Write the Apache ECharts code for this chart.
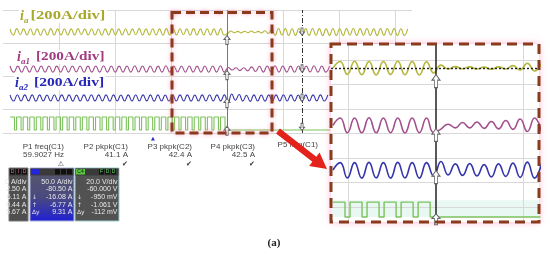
<!DOCTYPE html>
<html>
<head>
<meta charset="utf-8">
<script src="https://cdn.jsdelivr.net/npm/echarts@6/dist/echarts.min.js"></script>
<style>
html, body { margin: 0; padding: 0; background: #fff; }
#chart { width: 550px; height: 254px; }
</style>
</head>
<body>
<div id="chart"></div>
<script>
// ===== 左侧示波器数据 (单位: div) =====
const leftStart = 0.125;  // 波形起点
const iaStep = 0.0607;    // 半周期
const ia1Step = 0.0696;
const ia2Step = 0.066;
const cursorA = 4.0;      // 实线光标
const cursorB = 5.34;     // 点划线光标
const traceEnd = 5.84;    // 被放大框挡住处

// ia 峰谷值
const iaLeft = [
  .2, -.2, .22, -.18, .2, -.2, .21, -.19, .2, -.21,
  .19, -.2, .22, -.2, .2, -.19, .21, -.2, .2, -.2,
  .22, -.18, .2, -.2, .21, -.2, .19, -.21, .2, -.2,
  .22, -.19, .2, -.2, .21, -.2, .2, -.18, .22, -.2,
  .2, -.2, .21, -.19, .2, -.21, .22, -.2, .2, -.2,
  .21, -.18, .2, -.2, .22, -.2, .2, -.19, .21, -.2,
  .2, -.2, .22, -.2,
  -.1, .06, -.05, .04, -.06, .05, -.04, .06, -.05, .04, -.06, .08, -.1,
  .2, -.22, .23, -.2, .22, -.23, .21, -.22, .23, -.2,
  .22, -.22, .23, -.21, .22, -.23, .2, -.22, .23, -.22,
  .21, -.23, .22, -.2, .23, -.22, .22, -.21, .23, -.22,
  .2, -.23, .22, -.22, .23, -.2, .22, -.23, .21, -.22, .2,
];
const ia1Left = [
  .2, -.2, .19, -.21, .2, -.2, .21, -.19, .2, -.2,
  .2, -.21, .19, -.2, .21, -.2, .2, -.19, .2, -.21,
  .19, -.2, .2, -.2, .21, -.2, .2, -.21, .19, -.2,
  .2, -.2, .21, -.19, .2, -.2, .2, -.21, .19, -.2,
  .21, -.2, .2, -.19, .2, -.21, .2, -.2, .19, -.2,
  .2, -.21, .2, -.2, .21, -.2,
  .1, -.06, .08, -.1, .08, -.12, .14, -.16,
  .18, -.2, .2, -.19, .21, -.2, .2, -.2, .19, -.21,
  .2, -.2, .2, -.19, .21, -.2, .2, -.2, .19,
];
const ia2Left = [
  .2, -.2, .21, -.2, .2, -.19, .2, -.21, .2, -.2,
  .19, -.2, .21, -.2, .2, -.2, .2, -.21, .19, -.2,
  .2, -.2, .21, -.19, .2, -.2, .2, -.21, .2, -.2,
  .19, -.2, .2, -.2, .21, -.2, .2, -.19, .2, -.21,
  .2, -.2, .19, -.2, .21, -.2, .2, -.2, .2, -.21,
  .19, -.2, .2, -.2, .21, -.2, .2, -.19, .2,
  -.32, .26, -.15, .22, -.2, .18, -.22, .2, -.2, .19,
  -.21, .2, -.2, .2, -.19, .21, -.2, .2, -.2, .19,
  -.21, .2, -.2, .2, -.19, .2, -.2, .2,
];
// 驱动信号 (1 高 / 0 低)
const gateLeft = [
  1, 0, 1, 0, 1, 0, 1, 0, 1, 0, 1, 0, 1, 0, 1, 0, 1, 0, 1, 0,
  1, 0, 1, 0, 1, 0, 1, 0, 1, 0, 1, 0, 1, 0, 1, 0, 1, 0, 1, 0,
  1, 0, 1, 0, 1, 0, 1, 0, 1, 0, 1, 0, 1, 0, 1, 0, 1, 0, 1, 0,
  1, 0, 1, 0, 1, 0,
];
const gateLeftWidth = [0.08, 0.0375];   // 高、低电平宽度
// 左图水平网格位置
const leftHLines = [0, 1.56, 3.71, 5.85, 8];

// ===== 右侧放大图数据 =====
const rightStart = -0.256;
const rightStep = 0.1234;
const cursorR = 1.51;
const rightEnd = 3.3;
const iaRight = [
  0, .27, -.26, .28, -.27, .27, -.28, .27, -.26, .28, -.27, .27, -.28, .26, -.2,
  .12, -.04, .06, -.03, .05, -.04, .04, -.05, .05, -.04, .1, -.08, .2, -.12, .22,
];
const ia1Right = [
  0, .3, -.3, .3, -.3, .31, -.3, .3, -.3, .3, -.31, .3, -.3, .3, -.3,
  -.15, .05, -.1, .12, -.1, .14, -.12, .16, -.14, .2, -.16, .26, -.25, .3, -.3,
];
const ia2Right = [
  0, .3, -.32, .3, -.33, .31, -.32, .3, -.33, .31, -.32, .3, -.33, .3, -.25,
  .35, -.2, .25, -.22, .26, -.24, .22, -.28, .25, -.26, .28, -.3, .32, -.33, .3,
];
const gateRight = [1, 0, 1, 0, 1, 0, 1, 0, 1, 0, 1, 0];
const gateRightWidth = [0.206, 0.086];

// 文字
const traceLabels = ['a', 'a1', 'a2'];
const measureNames = ['P1 freq(C1)', 'P2 pkpk(C1)', 'P3 pkpk(C2)', 'P4 pkpk(C3)', 'P5 min(C1)'];
const measureValues = ['59.9027 Hz', '41.1 A', '42.4 A', '42.5 A', ''];
const box1Rows = ['0 A/div', '2.50 A', '6.11 A', '0.44 A', '5.67 A'];
const box2Rows = ['50.0 A/div', '-80.50 A', '-16.08 A', '-6.77 A', '9.31 A'];
const box3Rows = ['20.0 V/div', '-60.000 V', '-950 mV', '-1.061 V', '-112 mV'];

const colors = {
  ia: '#b4b63a',
  ia1: '#a24f8c',
  ia2: '#3434ac',
  gate: '#7cc25c',
  grid: '#d8d8d8',
  box: '#8a3b1c',
};

window.onload = function () {
  init();
};

function wave(values, start, step, offset) {
  return values.map((v, i) => [start + i * step, offset + v]);
}

function gate(levels, start, widths, end, lo, hi) {
  const pts = [];
  let x = start;
  levels.forEach(lv => {
    pts.push([x, lv ? hi : lo]);
    x += lv ? widths[0] : widths[1];
  });
  pts.push([x, lo]);
  pts.push([end, lo]);
  return pts;
}

function traceSeries(data, idx, color, width, smooth, zlevel) {
  return {
    type: 'line',
    xAxisIndex: idx,
    yAxisIndex: idx,
    data,
    showSymbol: false,
    smooth: smooth ? 0.5 : false,
    step: smooth ? false : 'end',
    lineStyle: { color, width },
    silent: true,
    zlevel,
    z: 3,
  };
}

function arrowMark(x, y, size, rotate) {
  return {
    coord: [x, y],
    symbol: 'path://M5,0L10,6L7,6L7,14L3,14L3,6L0,6Z',
    symbolSize: size,
    symbolRotate: rotate,
    itemStyle: { color: '#fff', borderColor: '#666', borderWidth: 1 },
  };
}

function text(x, y, str, font, fill, align, extra) {
  return Object.assign({
    type: 'text',
    x,
    y,
    style: { text: str, font, fill, align: align || 'left', verticalAlign: 'middle' },
  }, extra || {});
}

// 通道信息框
function channelBox(x, w, bodyFill, border, head, rows, glyphs) {
  const els = [];
  els.push({ type: 'rect', shape: { x, y: 168, width: w, height: 53 }, style: { fill: bodyFill, stroke: border, lineWidth: 1 } });
  els.push({ type: 'rect', shape: { x: x + 0.5, y: 168.5, width: w - 1, height: 7 }, style: { fill: '#3a3a3a' } });
  head.forEach(h => {
    els.push({ type: 'rect', shape: { x: h.x, y: 169, width: h.w, height: 5.5 }, style: { fill: h.fill } });
    if (h.t) {
      els.push(text(h.x + h.w / 2, 172, h.t, '5px "Liberation Sans"', h.tc, 'center'));
    }
  });
  const rowY = [181.7, 189.3, 197.3, 205, 212.3];
  rows.forEach((r, i) => {
    els.push(text(x + w - 1.5, rowY[i], r, '7px "Liberation Sans Narrow", "Liberation Sans"', '#e8e8e8', 'right'));
  });
  (glyphs || []).forEach((g, i) => {
    if (g) els.push(text(x + 2, rowY[i], g, '6px "DejaVu Sans"', '#e8e8e8', 'left'));
  });
  return els;
}

function arrowPolygon(x0, y0, x1, y1, shaftHalf, headLen, headHalf) {
  const len = Math.hypot(x1 - x0, y1 - y0);
  const ux = (x1 - x0) / len, uy = (y1 - y0) / len;
  const nx = -uy, ny = ux;
  const bx = x1 - ux * headLen, by = y1 - uy * headLen;
  return [
    [x0 + nx * shaftHalf, y0 + ny * shaftHalf],
    [bx + nx * shaftHalf, by + ny * shaftHalf],
    [bx + nx * headHalf, by + ny * headHalf],
    [x1, y1],
    [bx - nx * headHalf, by - ny * headHalf],
    [bx - nx * shaftHalf, by - ny * shaftHalf],
    [x0 - nx * shaftHalf, y0 - ny * shaftHalf],
  ];
}

function init() {
  const chart = echarts.init(document.getElementById('chart'));

  // 左图通道偏置
  const leftOff = { ia: 6.57, ia1: 4.16, ia2: 2.28, gateLo: 0.2, gateHi: 1.04 };
  // 右图通道偏置
  const rightOff = { ia: 5.67, ia1: 3.33, ia2: 1.51, gateLo: -0.41, gateHi: 0.2 };

  const leftGridLines = [];
  for (let i = 1; i <= 7; i++) leftGridLines.push({ xAxis: i });
  leftHLines.forEach(v => leftGridLines.push({ yAxis: v }));

  const series = [
    // 左图网格
    {
      type: 'line',
      xAxisIndex: 0,
      yAxisIndex: 0,
      data: [],
      silent: true,
      z: 1,
      markLine: {
        silent: true,
        symbol: ['none', 'none'],
        label: { show: false },
        animation: false,
        z: 1,
        lineStyle: { color: colors.grid, width: 1, type: 'solid' },
        data: leftGridLines,
      },
    },
    traceSeries(wave(iaLeft, leftStart, iaStep, leftOff.ia), 0, colors.ia, 1.1, true, 0),
    traceSeries(wave(ia1Left, leftStart, ia1Step, leftOff.ia1), 0, colors.ia1, 1.1, true, 0),
    traceSeries(wave(ia2Left, leftStart, ia2Step, leftOff.ia2), 0, colors.ia2, 1.1, true, 0),
    traceSeries(gate(gateLeft, leftStart, gateLeftWidth, traceEnd, leftOff.gateLo, leftOff.gateHi), 0, colors.gate, 1.1, false, 0),
    // 左图光标
    {
      type: 'line',
      xAxisIndex: 0,
      yAxisIndex: 0,
      data: [],
      silent: true,
      z: 6,
      markLine: {
        silent: true,
        symbol: ['none', 'none'],
        label: { show: false },
        animation: false,
        z: 6,
        data: [
          { xAxis: cursorA, lineStyle: { color: '#777', width: 1, type: 'solid' } },
          { xAxis: cursorB, lineStyle: { color: '#333', width: 1, type: [5, 2, 1, 2] } },
        ],
      },
      markPoint: {
        silent: true,
        label: { show: false },
        animation: false,
        z: 7,
        data: [
          arrowMark(cursorA, 6.05, [6, 9], 0),
          arrowMark(cursorA, 3.77, [6, 9], 0),
          arrowMark(cursorA, 1.95, [6, 9], 0),
          arrowMark(cursorA, 0.15, [6, 9], 0),
          arrowMark(cursorB, 6.6, [5, 7], 180),
          arrowMark(cursorB, 4.2, [5, 7], 180),
          arrowMark(cursorB, 2.3, [5, 7], 180),
          arrowMark(cursorB, 0.4, [5, 7], 180),
        ],
      },
    },

    // 右图网格
    {
      type: 'line',
      xAxisIndex: 1,
      yAxisIndex: 1,
      data: [],
      silent: true,
      zlevel: 1,
      z: 1,
      markArea: {
        silent: true,
        zlevel: 1,
        z: 1,
        itemStyle: { color: '#eaf8f4' },
        data: [[{ xAxis: -0.29, yAxis: rightOff.gateLo }, { xAxis: 3.3, yAxis: rightOff.gateHi + 0.08 }]],
      },
      markLine: {
        silent: true,
        zlevel: 1,
        z: 2,
        symbol: ['none', 'none'],
        label: { show: false },
        animation: false,
        lineStyle: { color: colors.grid, width: 1, type: 'solid' },
        data: [
          { xAxis: 0 }, { xAxis: 3 },
          { yAxis: 0 }, { yAxis: 1 }, { yAxis: 2 }, { yAxis: 3 }, { yAxis: 4 }, { yAxis: 5 }, { yAxis: 6 },
        ],
      },
    },
    traceSeries(wave(iaRight, rightStart, rightStep, rightOff.ia), 1, colors.ia, 1.6, true, 1),
    traceSeries(wave(ia1Right, rightStart, rightStep, rightOff.ia1), 1, colors.ia1, 1.6, true, 1),
    traceSeries(wave(ia2Right, rightStart, rightStep, rightOff.ia2), 1, colors.ia2, 1.6, true, 1),
    traceSeries(gate(gateRight, rightStart, gateRightWidth, rightEnd, rightOff.gateLo, rightOff.gateHi), 1, colors.gate, 1.4, false, 1),
    // 右图光标与零线
    {
      type: 'line',
      xAxisIndex: 1,
      yAxisIndex: 1,
      data: [],
      silent: true,
      zlevel: 1,
      z: 6,
      markLine: {
        silent: true,
        zlevel: 1,
        z: 6,
        symbol: ['none', 'none'],
        label: { show: false },
        animation: false,
        data: [
          { yAxis: rightOff.ia, lineStyle: { color: '#222', width: 1.4, type: [2, 2] } },
          { xAxis: cursorR, lineStyle: { color: '#222', width: 1.5, type: 'solid' } },
        ],
      },
      markPoint: {
        silent: true,
        zlevel: 1,
        z: 7,
        label: { show: false },
        animation: false,
        data: [
          arrowMark(cursorR, 5.14, [8, 13], 0),
          arrowMark(cursorR, 2.94, [8, 13], 0),
          arrowMark(cursorR, 1.22, [8, 13], 0),
          arrowMark(cursorR, -0.5, [8, 11], 0),
        ],
      },
    },
  ];

  // 注释图形
  const serif = '"Liberation Serif", "Times New Roman", serif';
  const graphic = [];
  const labelPos = [
    { x: 20, y: 16, sx: 1.28, color: '#a8a82c' },
    { x: 17, y: 57, sx: 1.17, color: '#a23c80' },
    { x: 15, y: 83, sx: 1.2, color: '#2828b8' },
  ];
  labelPos.forEach((p, k) => {
    const subW = traceLabels[k].length * 5.5;
    const bx = p.x + 5 + subW + (k ? 3 : 0);
    // 标签底色
    graphic.push({ type: 'rect', shape: { x: p.x - 1, y: p.y - 7, width: bx + 59 * p.sx - p.x + 2, height: 14 }, style: { fill: '#fff' }, z: 50 });
    graphic.push(text(p.x, p.y, 'i', 'italic bold 14px ' + serif, p.color, 'left', { z: 51 }));
    graphic.push(text(p.x + 4, p.y + 5, traceLabels[k], 'italic bold 9px ' + serif, p.color, 'left', { z: 51 }));
    graphic.push(text(bx, p.y, '[200A/div]', 'bold 13px ' + serif, p.color, 'left', { scaleX: p.sx, z: 51 }));
  });

  // 左侧虚线框
  graphic.push({
    type: 'rect',
    shape: { x: 172, y: 12.5, width: 100, height: 120.5 },
    style: { fill: null, stroke: colors.box, lineWidth: 3, lineDash: [9, 5], shadowColor: 'rgba(255,120,170,0.7)', shadowBlur: 4 },
    z: 100,
  });
  // 右侧放大框
  graphic.push({
    type: 'rect',
    shape: { x: 331, y: 44, width: 208, height: 178 },
    style: { fill: null, stroke: colors.box, lineWidth: 3, lineDash: [10, 6] },
    zlevel: 1,
    z: 100,
  });
  // 红色箭头
  graphic.push({
    type: 'polygon',
    shape: { points: arrowPolygon(278, 131, 327, 169, 3.2, 16, 8.5) },
    style: { fill: '#e3221b' },
    zlevel: 2,
  });

  // 测量项
  const mx = [64, 128, 192, 255, 318];
  measureNames.forEach((n, i) => {
    const f = '8px "Liberation Sans Narrow", "Liberation Sans"';
    graphic.push(text(mx[i], i === 4 ? 145 : 147, n, f, '#444', 'right'));
    if (measureValues[i]) graphic.push(text(mx[i], 155, measureValues[i], f, '#444', 'right'));
    graphic.push(text(mx[i] - 3, 164, i === 0 ? '⚠' : (i < 4 ? '✔' : ''), '7px "DejaVu Sans"', '#333', 'center'));
  });
  graphic.push(text(153, 139, '▲', '5px "DejaVu Sans"', '#2030c0', 'center'));

  // 通道信息框
  channelBox(9, 19, '#4f4f4f', '#777',
    [{ x: 10, w: 5, fill: '#111', t: 'D', tc: '#e07090' }, { x: 16, w: 5, fill: '#111', t: 'I', tc: '#e07090' }, { x: 22, w: 5, fill: '#111', t: 'D', tc: '#e07090' }],
    box1Rows).forEach(e => graphic.push(e));
  channelBox(30, 44, {
    type: 'linear', x: 0, y: 0, x2: 0, y2: 1,
    colorStops: [{ offset: 0, color: '#58586a' }, { offset: 0.55, color: '#4a4a80' }, { offset: 1, color: '#1f1fd6' }],
  }, '#aab0d8',
    [{ x: 31, w: 9, fill: '#2424d8' }, { x: 55, w: 5, fill: '#111' }, { x: 61, w: 5, fill: '#111' }, { x: 67, w: 5, fill: '#111' }],
    box2Rows, ['', '', '↓', '↑', 'Δy']).forEach(e => graphic.push(e));
  channelBox(75, 44, '#525252', '#9cc',
    [{ x: 76, w: 9, fill: '#5cc83c', t: 'C4', tc: '#113' }, { x: 99, w: 5, fill: '#111', t: 'F', tc: '#6d6' }, { x: 105, w: 5, fill: '#111', t: 'D', tc: '#6d6' }, { x: 111, w: 5, fill: '#111', t: 'D', tc: '#6d6' }],
    box3Rows, ['', '', '↓', '↑', 'Δy']).forEach(e => graphic.push(e));

  graphic.push(text(274, 243, '(a)', 'bold 11px ' + serif, '#222', 'center'));

  const option = {
    animation: false,
    grid: [
      { left: 3, top: 10, width: 409, height: 123, show: false },
      {
        left: 331, top: 44, width: 208, height: 178, show: true,
        backgroundColor: '#fff', borderWidth: 0,
        shadowColor: 'rgba(255,110,170,0.55)', shadowBlur: 7,
        zlevel: 1,
      },
    ],
    xAxis: [
      { type: 'value', gridIndex: 0, min: 0, max: 7.304, show: false },
      { type: 'value', gridIndex: 1, min: -0.29, max: 3.276, show: false, zlevel: 1 },
    ],
    yAxis: [
      { type: 'value', gridIndex: 0, min: 0, max: 8, show: false },
      { type: 'value', gridIndex: 1, min: -0.612, max: 6.653, show: false, zlevel: 1 },
    ],
    series,
    graphic,
  };

  chart.setOption(option);
}
</script>
</body>
</html>
